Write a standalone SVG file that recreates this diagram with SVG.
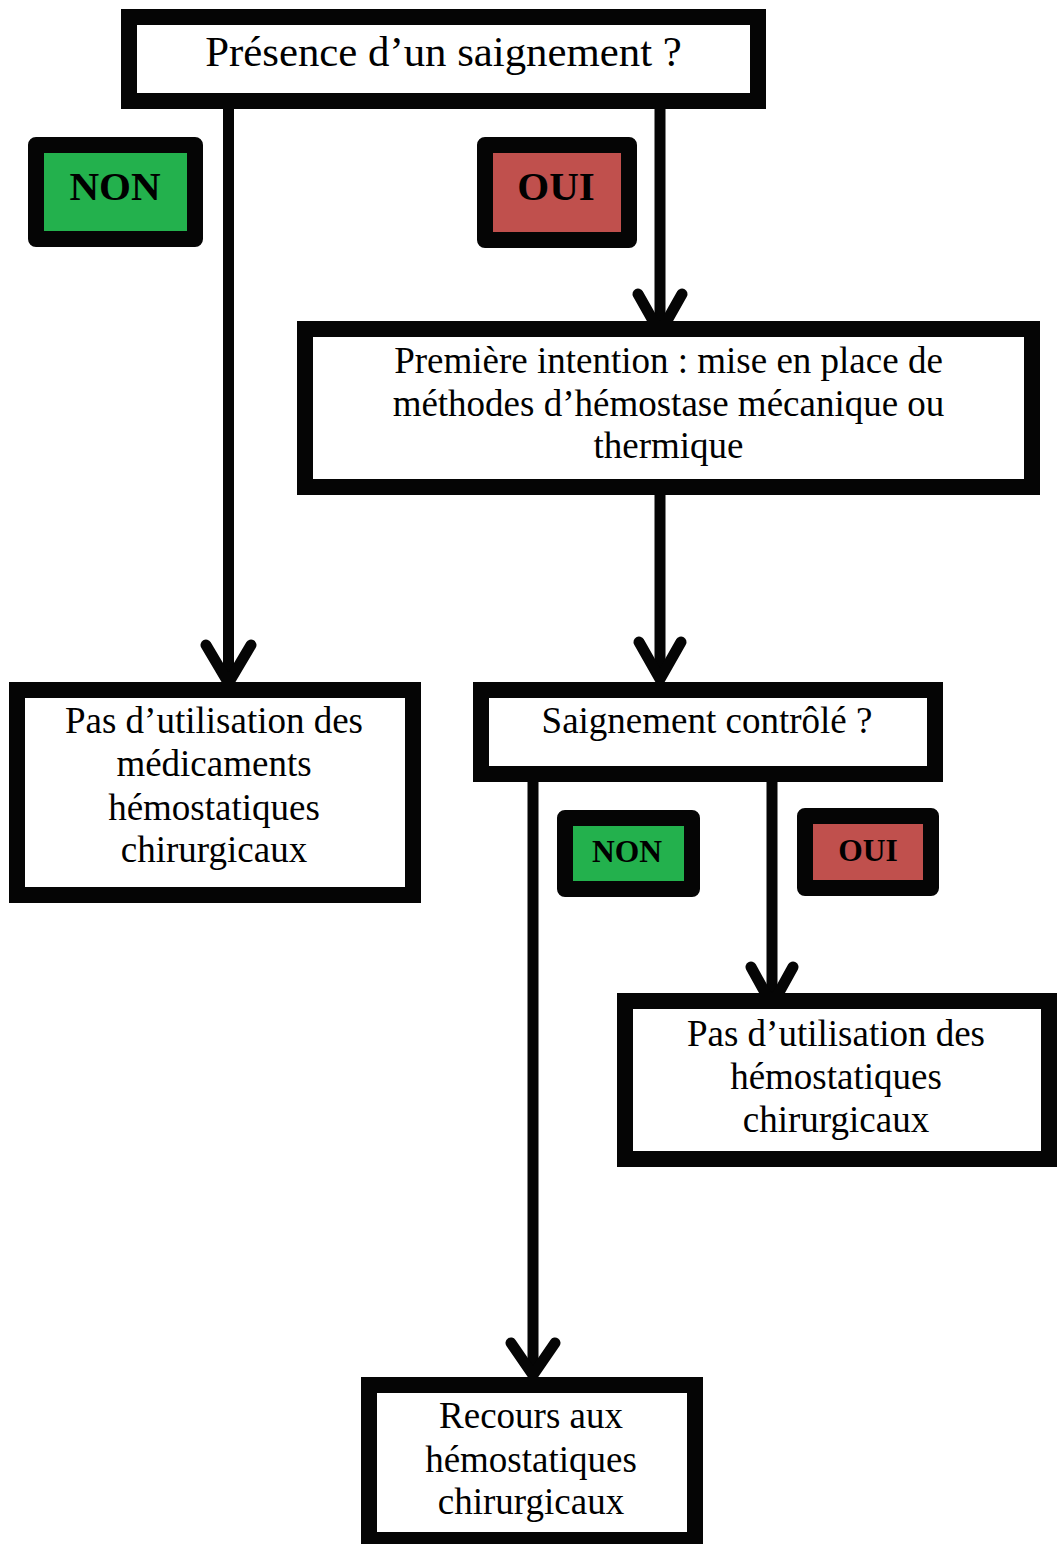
<svg xmlns="http://www.w3.org/2000/svg" width="1058" height="1544" viewBox="0 0 1058 1544">
<style>
.box{fill:#fff;stroke:#050505;stroke-width:16}
.tag{stroke:#050505;stroke-width:16;stroke-linejoin:round}
.green{fill:#23B14D}
.red{fill:#C0504D}
.t{font-family:"Liberation Serif","Times New Roman",serif;font-size:37px;fill:#000;text-anchor:middle}
.title{font-size:42.8px}
.b{font-family:"Liberation Serif","Times New Roman",serif;font-weight:bold;fill:#000;text-anchor:middle}
.ln{stroke:#050505;stroke-width:11;fill:none}
.hd{stroke:#050505;stroke-width:11;fill:none;stroke-linecap:round;stroke-linejoin:round}
</style>
<rect width="1058" height="1544" fill="#fff"/>
<g id="connectors">
<line class="ln" x1="228.5" y1="109" x2="228.5" y2="680"/>
<polyline class="hd" points="206,645 228.5,683 251,645"/>
<line class="ln" x1="660" y1="109" x2="660" y2="332"/>
<polyline class="hd" points="638,294 660,333 682,294"/>
<line class="ln" x1="660" y1="495" x2="660" y2="678"/>
<polyline class="hd" points="639,642 660,679 681,642"/>
<line class="ln" x1="772" y1="782" x2="772" y2="1004"/>
<polyline class="hd" points="751,967 772,1005 793,967"/>
<line class="ln" x1="533" y1="782" x2="533" y2="1373"/>
<polyline class="hd" points="511,1343 533,1375 555,1343"/>
</g>
<g id="n-presence">
<rect class="box" x="129" y="17" width="629" height="84"/>
<text class="t title" x="443.5" y="66">Présence d’un saignement ?</text>
</g>
<g id="n-non1">
<rect class="tag green" x="36" y="145" width="159" height="94"/>
<text class="b" font-size="41" x="115" y="200">NON</text>
</g>
<g id="n-oui1">
<rect class="tag red" x="485" y="145" width="144" height="95"/>
<text class="b" font-size="41" x="556" y="200">OUI</text>
</g>
<g id="n-premiere">
<rect class="box" x="305" y="329" width="727" height="158"/>
<text class="t" x="668.5" y="373">Première intention : mise en place de</text>
<text class="t" x="668.5" y="416">méthodes d’hémostase mécanique ou</text>
<text class="t" x="668.5" y="458">thermique</text>
</g>
<g id="n-pas-medic">
<rect class="box" x="17" y="690" width="396" height="205"/>
<text class="t" x="214" y="733">Pas d’utilisation des</text>
<text class="t" x="214" y="776">médicaments</text>
<text class="t" x="214" y="820">hémostatiques</text>
<text class="t" x="214" y="862">chirurgicaux</text>
</g>
<g id="n-controle">
<rect class="box" x="481" y="690" width="454" height="84"/>
<text class="t" x="707" y="733">Saignement contrôlé ?</text>
</g>
<g id="n-non2">
<rect class="tag green" x="565" y="818" width="127" height="71"/>
<text class="b" font-size="31.5" x="627" y="862">NON</text>
</g>
<g id="n-oui2">
<rect class="tag red" x="805" y="816" width="126" height="72"/>
<text class="b" font-size="31.5" x="868" y="861">OUI</text>
</g>
<g id="n-pas-hemo">
<rect class="box" x="625" y="1001" width="424" height="158"/>
<text class="t" x="836" y="1046">Pas d’utilisation des</text>
<text class="t" x="836" y="1089">hémostatiques</text>
<text class="t" x="836" y="1132">chirurgicaux</text>
</g>
<g id="n-recours">
<rect class="box" x="369" y="1385" width="326" height="155"/>
<text class="t" x="531" y="1428">Recours aux</text>
<text class="t" x="531" y="1472">hémostatiques</text>
<text class="t" x="531" y="1514">chirurgicaux</text>
</g>
</svg>
